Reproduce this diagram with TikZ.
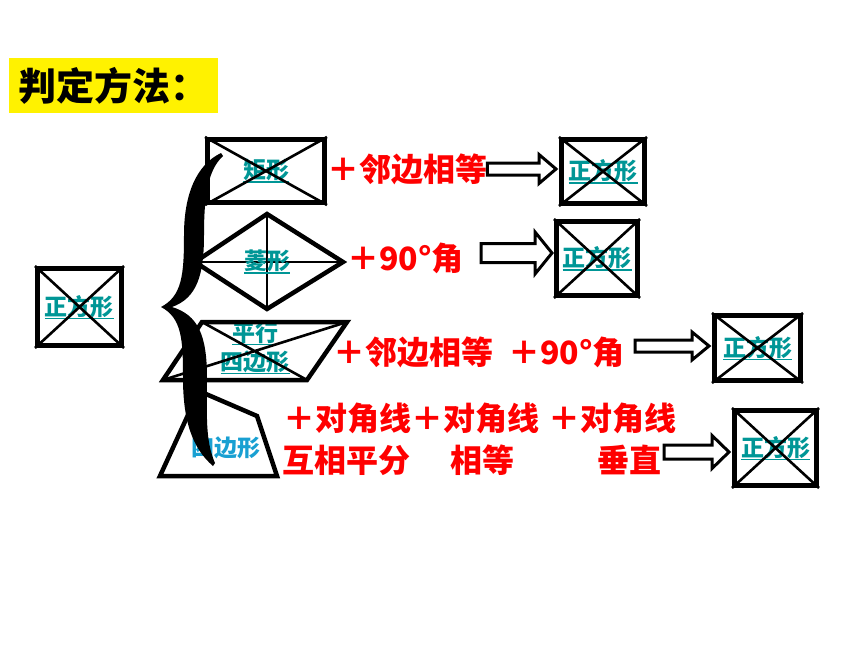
\documentclass[tikz,border=0pt]{standalone}
\usepackage{fontspec}
\setmainfont{Noto Sans CJK SC}
\usetikzlibrary{calc,positioning}
\definecolor{labelteal}{RGB}{0,150,150}
\definecolor{labelblue}{RGB}{25,160,210}
\newcommand{\ulabel}[1]{\setbox0\hbox{#1}\leavevmode\rlap{\rule[-4pt]{\wd0}{1.4pt}}\box0}
\tikzset{
    title-box/.style = {fill=yellow, rectangle, inner sep=0pt, font=\bfseries\fontsize{38}{42}\selectfont},
    square-box/.style = {draw=black, line width=5pt, rectangle, inner sep=0pt, text=labelteal, font=\bfseries\fontsize{23}{26}\selectfont},
    shape-line/.style = {draw=black, line width=4.5pt, line join=miter},
    diag-line/.style = {draw=black, line width=2.6pt},
    red-text/.style = {text=red, inner sep=0pt, anchor=west, font=\bfseries\fontsize{32}{36}\selectfont},
    shape-label/.style = {inner sep=0pt, font=\bfseries\fontsize{23}{29}\selectfont},
    hollow-arrow/.style = {draw=black, fill=white, line width=3pt, line join=miter},
}
% block arrow: start, end, half shaft, half head
\newcommand{\hollowarrow}[4]{%
  \draw[hollow-arrow] let \p1=#1, \p2=#2 in
    (\x1,\y1+#3) -- (\x2-17pt,\y1+#3) -- (\x2-17pt,\y1+#4) -- (\x2,\y1)
    -- (\x2-17pt,\y1-#4) -- (\x2-17pt,\y1-#3) -- (\x1,\y1-#3) -- cycle;}

\begin{document}
\begin{tikzpicture}[x=1pt, y=-1pt]
\useasboundingbox (0,0) rectangle (860,645);

\node[title-box, anchor=north west, minimum width=209, minimum height=55, text width=191, inner xsep=9] (title) at (9,58) {判定方法：};

% the square on the left
\node[square-box, minimum width=84, minimum height=77] (sqLeft) at (79.5,307) {\ulabel{正方形}};

% rectangle, rhombus, parallelogram, quadrilateral
\node[square-box, minimum width=117, minimum height=63] (rect) at (266,171) {\ulabel{矩形}};

\coordinate (rhTop) at (267,214);
\coordinate (rhRight) at (343,262);
\coordinate (rhBottom) at (267,309);
\coordinate (rhLeft) at (195,262);
\draw[shape-line] (rhTop) -- (rhRight) -- (rhBottom) -- (rhLeft) -- cycle;
\draw[diag-line] (rhLeft) -- (rhRight) (rhTop) -- (rhBottom);
\node[shape-label, text=labelteal] (rhLabel) at (267,262) {\ulabel{菱形}};

\coordinate (paTL) at (202,322);
\coordinate (paTR) at (347,322);
\coordinate (paBR) at (307,380);
\coordinate (paBL) at (163,380);
\node[shape-label, text=labelteal, align=center] (paLabel) at (255,348) {\ulabel{平行}\\\ulabel{四边形}};
\draw[shape-line] (paTL) -- (paTR) -- (paBR) -- (paBL) -- cycle;
\draw[diag-line] (paTL) -- (paBR) (paBL) -- (paTR);

\coordinate (quTL) at (199,391);
\coordinate (quTR) at (257,416);
\coordinate (quBR) at (277,476);
\coordinate (quBL) at (160,476);
\draw[shape-line] (quTL) -- (quTR) -- (quBR) -- (quBL) -- cycle;
\node[shape-label, text=labelblue] (quLabel) at (226,448) {四边形};

% conditions
\node[red-text] (plusA) at (327,169) {＋邻边相等};
\node[red-text] (plusB) at (347,258) {＋90°角};
\node[red-text] (plusC) at (333,352) {＋邻边相等};
\node[red-text] (plusD) at (508,352) {＋90°角};
\node[red-text] (diagA) at (283,418) {＋对角线};
\node[red-text, right=0pt of diagA] (diagB) {＋对角线};
\node[red-text] (diagC) at (548,418) {＋对角线};
\node[red-text] (halfA) at (282,460) {互相平分};
\node[red-text] (halfB) at (450,460) {相等};
\node[red-text] (halfC) at (597,460) {垂直};

% arrows to the squares
\coordinate (arB) at (481,253);
\coordinate (arC) at (635,346);
\coordinate (arD) at (664,452);
\node[square-box, minimum width=83, minimum height=64] (sqA) at (603,171.5) {\ulabel{正方形}};
\node[square-box, minimum width=81, minimum height=74] (sqB) at (597,258.5) {\ulabel{正方形}};
\node[square-box, minimum width=86, minimum height=65] (sqC) at (757.5,348) {\ulabel{正方形}};
\node[square-box, minimum width=82, minimum height=75] (sqD) at (775.5,448) {\ulabel{正方形}};
\hollowarrow{(plusA.east)}{($(sqA.west)+(-3,0)$)}{6pt}{14.5pt}
\hollowarrow{(arB)}{($(sqB.west)+(-2,0)$)}{9.5pt}{21pt}
\hollowarrow{(arC)}{($(sqC.west)+(-3,0)$)}{6pt}{14pt}
\hollowarrow{(arD)}{($(sqD.west)+(-3,0)$)}{7pt}{16.5pt}

\foreach \sq in {sqLeft, rect, sqA, sqB, sqC, sqD}
    \draw[diag-line] (\sq.north west) -- (\sq.south east) (\sq.north east) -- (\sq.south west);

% the brace
\fill[black] (221,153)
    .. controls (196,165) and (184,195) .. (184,235)
    .. controls (184,275) and (182,296) .. (161,307)
    .. controls (182,318) and (183,340) .. (183,378)
    .. controls (183,420) and (192,448) .. (213,466)
    -- (215,463)
    .. controls (205,440) and (207,415) .. (207,378)
    .. controls (207,335) and (198,315) .. (172,307)
    .. controls (197,298) and (204,275) .. (204,235)
    .. controls (204,195) and (208,170) .. (223,156) -- cycle;
\end{tikzpicture}
\end{document}
